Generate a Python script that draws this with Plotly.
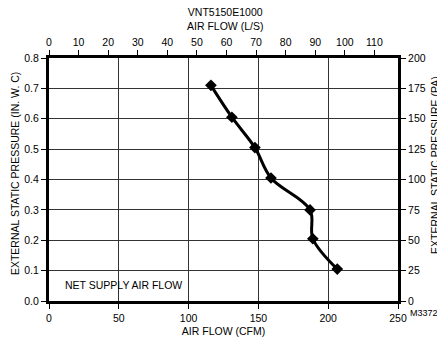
import plotly.graph_objects as go

# curve: air flow (CFM) vs static pressure (in. w.c.)
air_flow_cfm = [116, 131, 147.5, 159, 187, 189, 206.5]
pressure_inwc = [0.71, 0.605, 0.505, 0.405, 0.30, 0.205, 0.105]

ls_ticks = [0, 10, 20, 30, 40, 50, 60, 70, 80, 90, 100, 110]
pa_ticks = [0, 25, 50, 75, 100, 125, 150, 175, 200]

CFM_TO_LS = 0.4719
INWC_TO_PA = 250.0

font = dict(family="Liberation Sans, Arial, sans-serif", size=10.5, color="black")

fig = go.Figure()

fig.add_trace(go.Scatter(
    x=air_flow_cfm, y=pressure_inwc,
    mode="lines+markers",
    line=dict(color="black", width=3, shape="spline", smoothing=1.0),
    marker=dict(symbol="diamond", size=9, color="black"),
    showlegend=False, hoverinfo="skip",
))

# invisible traces so the secondary axes get drawn
fig.add_trace(go.Scatter(x=[0, 250 * CFM_TO_LS], y=[0, 0], xaxis="x2", yaxis="y",
                         mode="markers", marker=dict(opacity=0), showlegend=False,
                         hoverinfo="skip"))
fig.add_trace(go.Scatter(x=[0, 0], y=[0, 0.8 * INWC_TO_PA], xaxis="x", yaxis="y2",
                         mode="markers", marker=dict(opacity=0), showlegend=False,
                         hoverinfo="skip"))

axis_common = dict(
    showline=True, linecolor="black", linewidth=3,
    ticks="outside", ticklen=5, tickcolor="black", tickwidth=1,
    tickfont=font, zeroline=False, automargin=False,
)

fig.update_layout(
    width=437, height=341,
    margin=dict(l=49, r=39, t=58, b=40, autoexpand=False),
    paper_bgcolor="white", plot_bgcolor="white",
    font=font,
    xaxis=dict(
        range=[0, 250], tickvals=[0, 50, 100, 150, 200, 250],
        showgrid=True, gridcolor="#333", gridwidth=1,
        title=dict(text="AIR FLOW (CFM)", font=font, standoff=6),
        **axis_common,
    ),
    xaxis2=dict(
        range=[0, 250 * CFM_TO_LS], tickvals=ls_ticks,
        overlaying="x", side="top", showgrid=False,
        **axis_common,
    ),
    yaxis=dict(
        range=[0, 0.8], tickvals=[0, 0.1, 0.2, 0.3, 0.4, 0.5, 0.6, 0.7, 0.8],
        tickformat=".1f",
        showgrid=True, gridcolor="#333", gridwidth=1,
        **axis_common,
    ),
    yaxis2=dict(
        range=[0, 0.8 * INWC_TO_PA], tickvals=pa_ticks,
        overlaying="y", side="right", showgrid=False,
        **axis_common,
    ),
    annotations=[
        dict(text="VNT5150E1000<br>AIR FLOW (L/S)", xref="paper", yref="paper",
             x=0.504, y=1.16, xanchor="center", yanchor="middle",
             showarrow=False, font=font, align="center"),
        dict(text="EXTERNAL STATIC PRESSURE (IN. W. C)", xref="paper", yref="paper",
             x=-0.097, y=0.523, xanchor="center", yanchor="middle",
             textangle=-90, showarrow=False, font=font),
        dict(text="EXTERNAL STATIC PRESSURE (PA)", xref="paper", yref="paper",
             x=1.106, y=0.56, xanchor="center", yanchor="middle",
             textangle=-90, showarrow=False, font=font),
        dict(text="NET SUPPLY AIR FLOW", xref="x", yref="y",
             x=10, y=0.053, xanchor="left", yanchor="middle",
             showarrow=False, font=font),
        dict(text="M33727", xref="paper", yref="paper",
             x=1.029, y=-0.049, xanchor="left", yanchor="middle", showarrow=False,
             font=dict(family=font["family"], size=9, color="black")),
    ],
)

# drop the page margin so the figure fills the window exactly, no modebar
fig.write_html(
    "out.html",
    config={"displayModeBar": False},
    post_script="document.body.style.margin='0';"
                "document.body.style.overflow='hidden';"
                "document.documentElement.style.overflow='hidden';",
)
